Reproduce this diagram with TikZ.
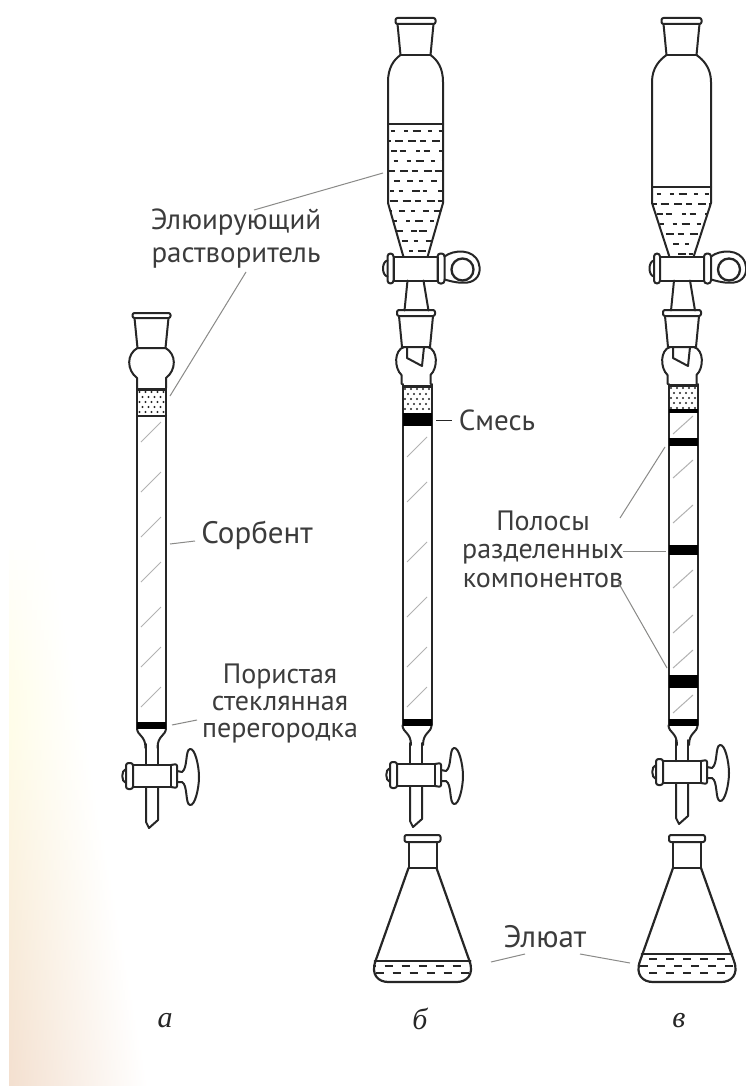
\documentclass[tikz,border=0pt]{standalone}
\usepackage{fontspec}
\setmainfont{PT Sans}
\newfontfamily\serifcyr{Liberation Serif}
\usetikzlibrary{calc}
\definecolor{ink}{HTML}{262626}
\definecolor{lead}{HTML}{8A8A88}
\definecolor{paper}{HTML}{F3DFCF}
\definecolor{cream}{HTML}{FFFDE9}
\tikzset{
 glass/.style={draw=ink,line width=2pt,line join=round,line cap=round},
 thin glass/.style={draw=ink,line width=2pt},
 hatchline/.style={draw=black!30,line width=1pt},
 leader/.style={draw=lead,line width=1pt},
 lbl/.style={font=\fontsize{29}{30}\selectfont,text=ink!90,align=center,inner sep=0pt},
 tag/.style={font=\serifcyr\itshape\fontsize{30}{32}\selectfont,text=ink,inner sep=0pt},
 band/.style={fill=black,draw=none},
 ldash/.style={draw=ink,line width=2pt},
 fdash/.style={draw=ink,line width=1.8pt},
 sand/.style={fill=ink,draw=none}
}
% lower stopcock: #1 cx, #2 cy
\newcommand\lowercock[2]{\begin{scope}[shift={(#1,#2)}]
 \draw[glass] (-6,-32) -- (-6,-11) (6,-32) -- (6,-11);
 \draw[glass] (-6,11) -- (-6,46) -- (-3,52) -- (6,44) -- (6,11);
 \draw[glass] (-19,-11) rectangle (19,11);
 \draw[glass,rounded corners=2.5pt] (-26,-13) rectangle (-19,13);
 \draw[glass] (-26,-7) .. controls (-31,-6) and (-31,6) .. (-26,7);
 \draw[glass,rounded corners=2pt] (19,-11) -- (25,-12) -- (25,12) -- (19,11);
 \draw[glass] (25,-5) -- (30,-4) .. controls (36,-8) and (33,-26) .. (38,-27)
   .. controls (43,-28) and (47,-10) .. (47,1)
   .. controls (47,12) and (43,30) .. (38,29)
   .. controls (33,28) and (36,9) .. (30,6) -- (25,6);
\end{scope}}
% upper stopcock with ring: #1 cx, #2 cy
\newcommand\uppercock[2]{\begin{scope}[shift={(#1,#2)}]
 \draw[glass] (-8,12) -- (-11,42) (8,12) -- (13,42);
 \draw[glass] (-22,-12) rectangle (22,12);
 \draw[glass,rounded corners=3pt] (-28,-15) rectangle (-22,15);
 \draw[glass] (-28,-8) .. controls (-34,-7) and (-34,7) .. (-28,8);
 \draw[glass,rounded corners=3pt] (22,-15) rectangle (29,15);
 \draw[glass] (29,-12) .. controls (38,-19) and (58,-20) .. (63,-6)
   .. controls (67,6) and (60,13) .. (52,14) .. controls (44,15) and (36,13) .. (29,11);
 \draw[thin glass,line width=2.3pt] (47,1) circle (11);
\end{scope}}
% funnel: #1 cx, #2 half width, #3 liquid level
\newcommand\funnel[3]{\begin{scope}[shift={(#1,0)}]
 \begin{scope}
 \clip (-#2,#3) -- (-#2,203) -- (-12,257) -- (12,257) -- (#2,203) -- (#2,#3) -- cycle;
 \foreach \r [count=\i] in {0,...,14}{
   \pgfmathsetmacro\yy{#3+7+\r*10}
   \foreach \k in {-3,...,3}{
     \pgfmathsetmacro\xx{\k*12+mod(\i*5,11)-5+mod(\k*\k+\i,4)*1.2}
     \pgfmathsetmacro\ll{2+mod(\k*\k+2*\i,3)*1}
     \draw[fdash] (\xx-\ll,\yy) -- (\xx+\ll,\yy);
   }}
 \end{scope}
 \draw[glass] (-18,24) -- (-15,55) (18,24) -- (15,55);
 \draw[glass,rounded corners=2pt] (-20,18) rectangle (20,24);
 \draw[glass] (-15,55) -- (15,55);
 \draw[glass] (-15,55) .. controls (-22,60) and (-#2,68) .. (-#2,82) -- (-#2,203) -- (-12,257);
 \draw[glass] (15,55) .. controls (22,60) and (#2,68) .. (#2,82) -- (#2,203) -- (12,257);
 \draw[glass] (-#2,#3) -- (#2,#3);
\end{scope}}
% joint with bulb: #1 cx, #2 half tube
\newcommand\joint[2]{\begin{scope}[shift={(#1,0)}]
 \draw[glass,rounded corners=2pt] (-19,310) rectangle (19,316);
 \draw[glass] (-17,316) -- (-14,347) (17,316) -- (14,347) (-14,347) -- (14,347);
 \draw[glass] (-12,347) .. controls (-22,350) and (-22,368) .. (-#2,375) -- (-#2,384);
 \draw[glass] (12,347) .. controls (22,350) and (22,368) .. (#2,375) -- (#2,384);
 \draw[glass] (-9,347) -- (-9,358) -- (6,366) -- (8,347);
\end{scope}}
% tube: #1 cx, #2 half, #3 top, #4 bottom of tube; taper to stem
\newcommand\tube[4]{\begin{scope}[shift={(#1,0)}]
 \draw[glass] (-#2,#3) -- (-#2,#4) (#2,#3) -- (#2,#4);
 \draw[glass] (-#2,#4) .. controls (-#2,#4+8) and (-6,#4+7) .. (-6,#4+20);
 \draw[glass] (#2,#4) .. controls (#2,#4+8) and (6,#4+7) .. (6,#4+20);
\end{scope}}
% sand: #1 cx, #2 half, #3 top, #4 bottom
\newcommand\sandlayer[4]{\begin{scope}[shift={(#1,0)}]
 \clip (-#2,#3) rectangle (#2,#4);
 \foreach \r in {0,...,5}{\foreach \k in {-3,...,3}{
   \fill[sand] ({\k*6+mod(\r,2)*3},{#3+3+\r*5}) circle (1.2);}}
\end{scope}
\begin{scope}[shift={(#1,0)}]
 \draw[line width=3pt,draw=ink] (-#2,#3) -- (#2,#3);
\end{scope}}
% flask: #1 cx, #2 half, #3 liquid level
\newcommand\flask[3]{\begin{scope}[shift={(#1,0)}]
 \pgfmathsetmacro\hw{#2-2-(961-#3)*(#2-14)/93}
 \begin{scope}
 \clip (-\hw,#3) -- ({-#2+3},961)
   .. controls ({-#2-2},975) and ({-#2+6},982) .. ({-#2+16},982) -- ({#2-16},982)
   .. controls ({#2-6},982) and ({#2+2},975) .. ({#2-3},961) -- (\hw,#3) -- cycle;
 \foreach \r in {0,1,2,3}{
   \pgfmathsetmacro\yy{#3+5+\r*7}
   \ifdim\yy pt<980pt
   \foreach \k in {-5,...,5}{
     \pgfmathsetmacro\xx{\k*17+mod(\r,2)*8}
     \draw[ldash] (\xx-4,\yy) -- (\xx+4,\yy);
   }\fi}
 \end{scope}
 \draw[glass,rounded corners=2pt] (-18,835) rectangle (18,842);
 \draw[glass] (-14,842) -- (-14,868) (14,842) -- (14,868) (-14,868) -- (14,868);
 \draw[glass,line width=2.2pt] (-14,868) -- ({-#2+3},961)
   .. controls ({-#2-2},975) and ({-#2+6},982) .. ({-#2+16},982) -- ({#2-16},982)
   .. controls ({#2-6},982) and ({#2+2},975) .. ({#2-3},961) -- (14,868);
 \draw[glass] (-\hw,#3) -- (\hw,#3);
\end{scope}}
\begin{document}
\begin{tikzpicture}[x=1pt,y=-1pt]
\useasboundingbox (0,0) rectangle (745,1086);
\fill[white] (0,0) rectangle (745,1086);
\foreach \y in {530,540,...,1080}{
  \pgfmathsetmacro\t{(\y-530)/556}
  \pgfmathsetmacro\p{min(100,max(0,(\t-.35)*155))}
  \pgfmathsetmacro\w{40+\t*100}
  \pgfmathsetmacro\r{min(100,\t*350)}
  \colorlet{leftedge}{paper!\p!cream}
  \colorlet{leftedge}{leftedge!\r!white}
  \shade[left color=leftedge,right color=white,draw=none] (9,\y) rectangle (9+\w,\y+10.5);
}

%%% column a
\begin{scope}[shift={(151.5,0)}]
 \draw[glass,rounded corners=2pt] (-19,313) rectangle (19,318);
 \draw[glass] (-17,318) -- (-14,348) (17,318) -- (14,348) (-14,348) -- (14,348);
 \draw[glass] (-14,348) .. controls (-25,354) and (-25,370) .. (-14.5,378) -- (-14.5,388);
 \draw[glass] (14,348) .. controls (25,354) and (25,370) .. (14.5,378) -- (14.5,388);
\end{scope}
\sandlayer{151.5}{14.5}{389}{416}
\draw[glass] (137,416) -- (166,416);
\tube{151.5}{14.5}{388}{728}
\foreach \y in {440,490,535,580,625,665,705}
  \draw[hatchline] (141,\y+2) -- (161,\y-18);
\fill[band] (137,722) rectangle (166,729);
\lowercock{152}{776}

%%% column b
\funnel{415.5}{27.5}{124}
\uppercock{415.5}{268.5}
\joint{416}{14.5}
\sandlayer{417}{14.5}{386}{413}
\tube{417}{14.5}{384}{725}
\fill[band] (402.5,413) rectangle (431.5,426);
\foreach \y in {455,500,560,615,665,705}
  \draw[hatchline] (407,\y+2) -- (427,\y-18);
\fill[band] (402.5,719) rectangle (431.5,726);
\lowercock{416}{775}
\flask{422.5}{50}{961}

%%% column c
\funnel{681.5}{29.5}{187}
\uppercock{682}{268.5}
\joint{682}{14.5}
\sandlayer{683}{14.5}{385}{410}
\tube{683}{14.5}{384}{725}
\fill[band] (668.5,409) rectangle (697.5,413);
\fill[band] (668.5,438) rectangle (697.5,446);
\fill[band] (668.5,545) rectangle (697.5,555);
\fill[band] (668.5,675) rectangle (697.5,688);
\fill[band] (668.5,719) rectangle (697.5,726);
\foreach \y in {436,480,525,590,635,670,715}
  \draw[hatchline] (673,\y-2) -- (693,\y-20);
\lowercock{682}{772}
\flask{687}{50}{954}

%%% labels
\node[lbl,font=\fontsize{29}{33}\selectfont] (elut) at (236,239) {Элюирующий\\растворитель};
\coordinate (elutA) at (254,210);
\coordinate (elutB) at (383,173);
\coordinate (elutC) at (246,272);
\coordinate (elutD) at (170,396);
\draw[leader] (elutA) -- (elutB);
\draw[leader] (elutC) -- (elutD);

\node[lbl] (mix) at (497,420) {Смесь};
\coordinate (mixA) at (436,420);
\coordinate (mixB) at (452,420);
\draw[leader,draw=ink] (mixA) -- (mixB);

\node[lbl,font=\fontsize{31}{32}\selectfont] (sorb) at (257,535) {Сорбент};
\coordinate (sorbA) at (170,544);
\coordinate (sorbB) at (195,541);
\draw[leader] (sorbA) -- (sorbB);

\node[lbl,font=\fontsize{28}{27}\selectfont] (frit) at (280,703) {Пористая\\стеклянная\\перегородка};
\coordinate (fritA) at (172,725);
\coordinate (fritB) at (197,720);
\draw[leader] (fritA) -- (fritB);

\node[lbl,font=\fontsize{28}{28.5}\selectfont] (bands) at (543,549) {Полосы\\разделенных\\компонентов};
\coordinate (bA) at (620,518);
\coordinate (bB) at (665,447);
\coordinate (bC) at (623,551);
\coordinate (bD) at (666,551);
\coordinate (bE) at (618,582);
\coordinate (bF) at (667,668);
\draw[leader] (bA) -- (bB);
\draw[leader] (bC) -- (bD);
\draw[leader] (bE) -- (bF);

\node[lbl,font=\fontsize{31}{32}\selectfont] (elu) at (545,937) {Элюат};
\coordinate (eA) at (491,962);
\coordinate (eB) at (525,954);
\coordinate (eC) at (580,954);
\coordinate (eD) at (630,963);
\draw[leader] (eA) -- (eB);
\draw[leader] (eC) -- (eD);

\node[tag] (ta) at (165,1021) {а};
\node[tag] (tb) at (420,1019) {б};
\node[tag] (tc) at (679,1021) {в};
\end{tikzpicture}
\end{document}
